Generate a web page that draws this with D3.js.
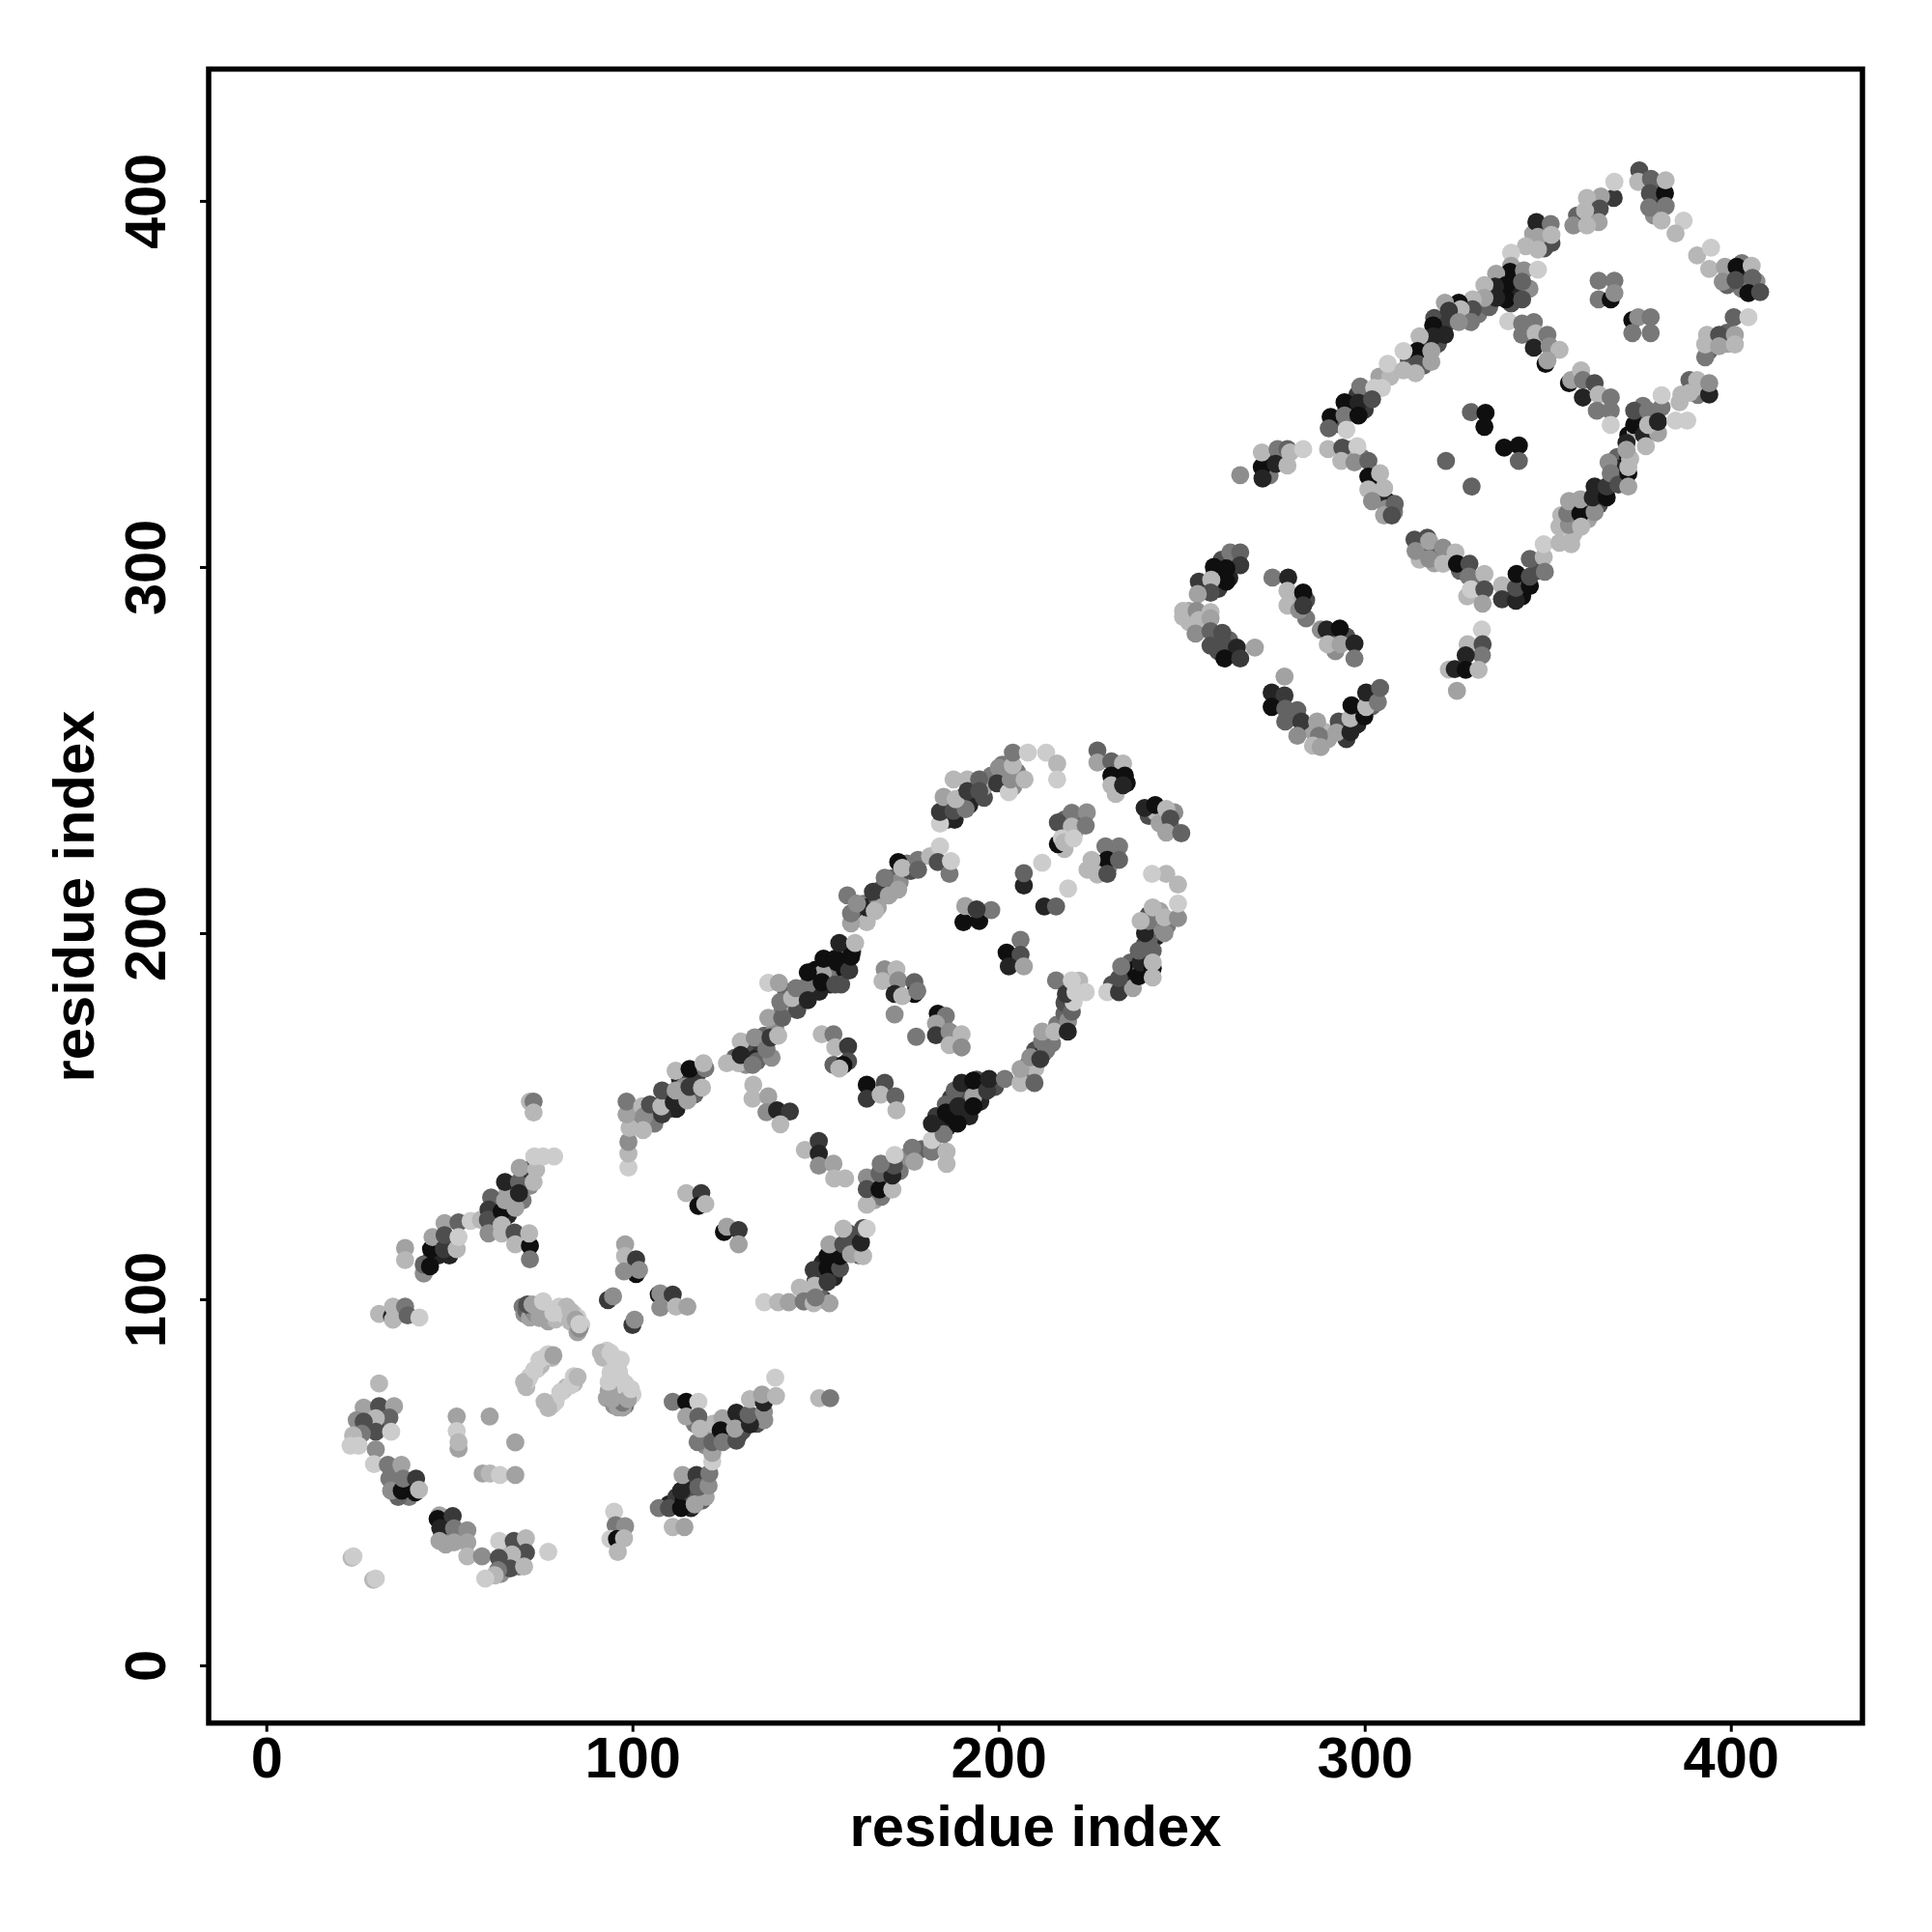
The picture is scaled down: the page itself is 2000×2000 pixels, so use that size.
<!DOCTYPE html>
<html><head><meta charset="utf-8"><script src="https://cdnjs.cloudflare.com/ajax/libs/d3/7.8.5/d3.min.js"></script>
<style>html,body{margin:0;padding:0;background:#fff}svg{display:block}</style></head><body><div id="c"></div>
<script>
// each contact: [residue i, residue j, shade 0 (dark) .. 9 (light)]
const tickValues=[0,100,200,300,400];
const axisTitle="residue index";
// contacts mostly hidden under others: drawn first
const underCross=[[70,98,5],[70.5,96,6],[71,97,4],[72,95,7],[73,97,3],[73.5,96,6],[74,98,8],[75,96.5,7],[76,95,8],[77,97,9],[77,94,7],[79,94.5,8],[80,98,9],[81,96,9],[82,98,8],[83,94,8],[84,96,9],[85,95,9],[86,93,9],[85,91,7],[72,79,9],[71,76,8],[71.5,78,9],[74,81,9],[75,82,8],[77,85,9],[78,84,8],[79,72,9],[78,71,9],[81,75,9],[82,76,8],[84,77,8],[84,79,9],[76,72,8],[92,84,8],[93,86,9],[95,84,9],[96,82,9],[94,80,9],[95,79,9],[97,78,9],[95,75,8],[93,73,7],[95,71,6],[96,73,6],[98,74,7],[99,73,5],[97,72,4],[98,71,5],[100,74,9],[96,76,9],[98,77,9],[94,77,9],[96,70.5,7]];
const underLowerStrand=[[110,44,1],[112,46,2],[114,45,0],[115,47,3],[116,50,1],[119,45,4],[116,43,1],[118,51,5],[120,46,7],[122,61,2],[123,62,1],[125,63,0],[126,65,3],[127,62,2],[129,63,1],[130,67,0],[130,64,3],[133,68,1],[134,66,3],[136,67,6],[117,66,5],[120,63,6],[122,66,8],[120,60,6]];
const underMidLower=[[152,100,2],[151,102,4],[148,101,6],[150,105,3],[152,110,1],[155,106,1],[155,110,0],[158,113,1],[160,116,4],[161,114,5],[162,112,3],[159,118,3],[165,128,6],[166,131,1],[166,127,7],[168,128,5],[169,131,1],[169,134,3],[170,132,2],[173,135,5],[175,139,6],[179,141,4],[182,142,7],[184,146,3],[183,150,2],[186,147,1],[187,150,0],[187,155,2],[190,150,2],[190,154,0],[191,157,3],[192,150,1],[195,154,1],[195,158,2],[194,160,3],[188,157,4],[199,158,3]];
const underMidUpper=[[207,160,5],[208,164,4],[210,168,3],[212,167,1],[213,168,5],[210,163,8],[213,172,3],[216,175,5],[218,178,4],[219,176,6],[218,181,3],[219,186,3],[222,187,8],[231,186,3],[234,186,2],[235,189,1],[236,192,4],[237,190,0],[240,192,1],[239,190,5],[240,197,3],[243,199,1],[241,198,4],[243,202,6],[241,205,3],[246,202,5],[244,206,7]];
const underUpperA=[[100,148,4],[101,150,6],[104,149,7],[106,152,3],[106,148,5],[109,155,1],[110,152,3],[112,152,1],[113,156,2],[113,160,1],[116,160,3],[117,156,4],[118,162,2],[114,158,6],[128,166,4],[131,168,3],[131,164,6],[134,166,1],[135,170,2],[134,165,4],[136,172,4],[138,166,6],[139,174,6],[141,179,5],[142,184,4],[143,180,7],[145,179,3],[146,184,3],[149,184,2],[149,187,8],[150,190,0],[151,184,1],[153,188,0],[154,186,1],[154,190,2],[156,188,5],[157,194,2],[158,190,0],[158,196,4],[160,195,1],[148,186,5],[152,189,7],[156,192,0],[157,186,3]];
const underUpperB=[[161,204,3],[162,206,2],[163,208,5],[164,203,8],[164,207,1],[167,209,3],[168,212,4],[167,207,7],[170,213,2],[171,215,4],[173,214,6],[175,219,5],[176,217,3],[186,231,2],[186,235,5],[188,231,1],[189,235,2],[190,237,3],[192,235,1],[193,240,2],[196,237,3],[197,241,3],[198,243,5],[201,242,2],[201,246,5],[204,240,6],[205,244,5],[196,240,7],[232,243,1],[233,245,5],[235,241,0],[232,238,8],[241,232,3],[243,233,8],[244,230,7],[247,229,5],[248,233,6],[218,231,4],[222,231,4],[221,228,7],[230,218,6],[227,219,5],[227,216,8],[231,222,4],[218,223,8]];
const underRing=[[261,302,3],[264,302,1],[263,297,1],[260,294,2],[256,294,4],[259,298,0],[252,288,7],[252,285,8],[256,284,7],[255,283,6],[259,280,5],[260,277,3],[263,276,1],[264,276,4],[263,280,4],[276,263,1],[280,259,3],[284,256,5],[286,255,7],[289,255,8],[290,253,7],[294,256,4],[295,253,2],[298,257,1],[298,260,2],[301,264,2],[302,262,4],[284,291,3],[282,292,1],[280,291,7],[284,286,5],[291,281,4],[295,281,3],[292,277,6],[275,330,2],[273,328,0],[274,325,5],[277,330,8]];
const underThirdLeft=[[298,347,2],[295,343,1],[293,339,3],[300,348,3],[300,343,2],[304,352,7],[307,352,8],[312,357,3],[313,354,5],[315,358,1],[316,361,2],[316,355,4],[320,364,1],[320,361,3],[319,368,3],[323,367,2],[327,369,1],[331,372,3],[331,369,5],[333,374,1],[334,371,4],[337,375,0],[337,379,2],[341,376,1],[340,372,3],[341,381,0],[342,379,5],[345,376,6],[349,392,4],[346,391,7],[349,387,3],[358,396,4],[362,399,5],[380,400,2],[380,404,4],[379,396,6]];
const underThirdRight=[[372,336,0],[375,340,1],[378,341,3],[374,337,8],[376,344,5],[369,330,4],[370,327,1],[368,324,4],[364,320,1],[364,317,3],[360,318,2],[361,313,7],[356,313,3],[357,309,8],[392,348,3],[391,347,5],[390,349,8],[395,362,5],[394,359,4],[399,361,7],[399,364,4],[399,380,6],[403,380,1],[403,376,5],[403,383,5],[407,378,6],[399,377,4],[339,293,1],[343,292,0],[343,296,2],[347,299,3],[326,299,4],[330,296,5],[328,292,8],[316,305,5],[315,302,8],[319,304,4],[319,301,7],[304,319,4],[306,318,1],[306,316,6],[308,315,5],[303,323,0],[299,330,5],[296,332,2],[295,330,7],[316,306,4]];
const underFirstDomain=[[45,111,3],[47,112,1],[47,115,6],[49,115,2],[50,112,1],[62,123,3],[62,126,2],[63,120,7],[66,123,1],[66,129,3],[67,127,4],[70,127,5],[66,130,7],[70,134,8],[72,131,6],[28,66,4],[31,66,5],[28,68,7],[32,65,3],[35,52,7],[36,50,3],[39,49,0],[39,46,5],[36,46,4],[48,36,5],[49,38,2],[50,35,6],[49,33,7],[53,35,5],[65,31,2],[66,28,4],[68,29,1],[65,33,8],[69,27,5],[68,32,3],[64,25,6]];
// contacts seen on top
const lowerLeftArc=[[72,154,8],[73,154,5],[73,151,8],[37.9,114,7],[37.9,110.7,8],[43,107,6],[43,109.5,4],[44.7,109,0],[45,113.7,0],[45.4,117,7],[48.7,120.8,7],[52.5,121,4],[48.5,113.7,2],[52,113.7,8],[48.7,117.5,3],[52.5,117,9],[55.8,121.4,9],[58.6,121.7,8],[61.4,127.8,4],[60.7,124.5,2],[60.5,121.7,3],[60.7,118,6],[64.3,124,0],[65.2,127,7],[68,125,7],[64.3,120.3,8],[64.3,118,8],[67.8,118.2,3],[68,115,8],[72,114.6,0],[71.8,118,8],[72,110.9,5],[65.2,132,1],[69,132,4],[69,129,1],[71.8,135.4,2],[69.2,135.9,7],[73.7,135.4,8],[73,132,8],[73.2,139,9],[75.6,139,9],[78.6,139,9]];
const crossArms=[[30.8,96,8],[34.3,95.3,1],[34.6,94.4,8],[34.6,98,8],[37.9,98,5],[38.6,95.6,4],[41.8,95,9],[71.3,98.6,3],[72.7,98.6,7],[74.6,94.9,7],[75.6,99.4,9],[78.4,96.3,9],[83.1,96.7,8],[84.5,94.4,7],[85.5,92,6],[85.5,93.2,9],[70.4,77.4,8],[73.2,80.7,9],[74.6,83.5,9],[76.5,84.5,9],[78.4,84.7,7],[77,70.3,8],[80.3,74.6,9],[83.1,76.5,9],[85,78.8,8],[91.4,85.4,8],[94,85.4,9],[96.8,83.5,9],[96.3,80.2,9],[93.5,75,7],[93.5,77.4,9],[97.3,70.4,7],[97.3,71.8,5],[98.7,72.7,7],[94.4,72.7,7],[99.6,75.5,9],[93.3,99.8,2],[94.7,100.8,6],[100,93,2],[100.6,94.4,6],[98,115,7],[98,111.8,8],[101,110.9,2],[101,106.9,0],[97.7,107.6,6],[101.8,108,6],[107.2,101.3,0],[107.6,101.6,6],[111,101.3,2],[107.6,97.7,6],[111.9,98,8],[115,98,7],[114.7,129,8],[118.8,129,2],[118,125.5,0],[119.9,126,8],[125,118.4,0],[125.8,119.8,7],[129,118.9,2],[129,115,7]];
const firstHelixEnd=[[30.8,77,8],[26.6,70.4,7],[30.8,70.8,3],[34.9,70.8,7],[33.6,67.7,4],[29.9,67.5,8],[24.7,67,6],[26.6,66.6,3],[29.9,63.8,3],[26.1,63.3,5],[34.1,63.8,9],[23.7,62.8,8],[23,60,9],[25.2,60,9],[29.9,59,6],[29.4,55,9],[33.2,54.8,5],[36.9,54.8,7],[33.6,51,5],[34.1,47.7,6],[37,47.7,0],[37.4,51,5],[40.9,51,2],[40.7,47.3,0],[41.7,48,8],[47.3,41,7],[46.8,40,0],[50.9,40.8,2],[47.5,37.5,1],[47.3,34,7],[51.3,37.4,5],[54.9,36.9,6],[51.3,33.6,7],[54.9,33.6,7],[54.9,29.8,8],[58.9,29.8,6],[63.6,34,9],[67.6,34,3],[70.9,34.7,8],[70.9,30.8,3],[67.1,30.3,8],[63.5,29.4,3],[66.6,26.5,3],[63.3,26,5],[70.4,27,8],[62.4,24.6,8],[59.8,23.7,9],[77,31,9],[23.3,29.4,8],[23.8,29.8,9],[29.2,23.4,8],[29.9,23.7,9]];
const lowerInner=[[52,68,7],[61,68,7],[52,64,9],[52.5,59.2,7],[52.5,61,8],[68,60.9,7],[59.1,52.4,7],[61,52.4,8],[63.8,52,9],[68,52,7],[95,42,9],[95.4,38.3,5],[98,38,6],[94,34.5,9],[95.8,34.5,0],[97.7,34.7,8],[96,31,8]];
const lowerStrand=[[107.2,43,5],[110,43,3],[111,37.8,8],[114.2,37.8,7],[113.3,43,0],[117,44,7],[113.3,47.7,1],[113.7,52,7],[117.5,52,2],[118,48.7,4],[120.8,49.1,6],[121,52.4,5],[121.8,55.7,9],[121.8,58,7],[111,72,5],[114.7,72,0],[118,72,9],[114.7,68,7],[118,68,4],[117.8,61,5],[118.5,64.7,8],[121.8,61,4],[124.6,67.5,7],[124.1,64.2,0],[124.6,61,5],[128.4,61.4,3],[128.4,69,1],[128,64.7,7],[132.1,65.8,1],[131.7,68.5,4],[132.1,72.7,8],[135.9,69.2,6],[135.9,71.8,1],[135.4,74,7],[139.2,73.6,8],[139,78.6,9],[151,73,8],[154,73,5]];
const midStrandLower=[[136,99.2,9],[139.8,99.2,8],[142.7,99.2,7],[145.7,103.2,8],[146.8,99.4,5],[149.5,108,2],[149.8,103.7,8],[149.5,98.9,8],[153.8,98.9,7],[150,100.5,5],[153.3,108.5,0],[153.3,104.8,2],[156.7,108.5,3],[153.3,111.8,0],[156.7,111.8,0],[153.8,115,7],[157.6,115,3],[157.6,119.3,8],[159.7,112.3,7],[163,111.8,8],[162.4,115.5,1],[163,119.4,3],[164,119.3,9],[164,125.8,8],[164,133.3,6],[164,130.1,3],[167.5,130,0],[167.5,134.4,4],[171,130,8],[171,133.8,1],[171.4,136.5,3],[167.8,137,5],[171.6,139.4,9],[176.4,141.4,5],[177,137.6,7],[181.8,140.3,5],[181.8,143.5,9],[185.8,137,8],[185.8,140.3,8],[185,145.1,5],[181.8,148,1],[185.6,153.2,4],[185.6,151,0],[188.8,148,0],[189,152.7,1],[189.9,159.1,1],[193.1,155.4,7],[193.1,152.7,0],[193.1,159.7,0],[196.9,157,2],[197.4,160.2,1]];
const midStrandUpper=[[201.7,160.2,5],[206,159.1,8],[209.8,159.1,4],[206,162.9,7],[208.7,166.1,6],[211.4,165.6,2],[211.9,170.4,5],[214.6,169.9,5],[211.9,173.1,7],[215.2,173.1,8],[218.9,173.1,1],[220,178.5,4],[220.5,181.2,9],[215.7,187.1,5],[218.4,183.4,2],[220,187.1,9],[221,183.9,9],[223.8,183.9,9],[229.7,183.9,9],[232.9,183.9,2],[236.7,185,7],[232.9,187.7,3],[233.5,190.9,5],[238.3,188.2,0],[238.8,192,1],[242.1,190.4,0],[242.1,187.9,8],[242.1,195.2,4],[238.3,195.2,4],[242.1,192,8],[240,200,1],[241,203.3,5],[238.8,203.3,8],[245.3,200,6],[245.3,204.3,8],[249,204.1,6],[242.1,207,8],[249,208.1,9],[249,213.3,8],[245.8,216.2,8],[241.9,216.2,9]];
const topRightCorner=[[227,249.9,4],[227,246.6,7],[230.8,246.9,4],[234,246.3,8],[230.8,243,0],[230.8,240.4,8],[234.5,243,0],[234,240.4,1],[239.9,234.2,1],[242.8,235,0],[245.8,233.9,8],[246.9,231.3,3],[245.8,227.5,7],[249.9,227.3,4],[220,232.9,5],[224.1,233,6],[216.2,230.2,3],[220,229.1,8],[223.8,229.4,5],[216.2,224.3,0],[217.3,225.9,9],[217.9,224.8,8],[220.5,225.9,9],[229.2,223.7,5],[232.9,223.7,5],[229.7,220,0],[232.9,220,4],[225.4,220,8],[224.3,217.3,8],[229.7,216.2,3],[211.9,219.2,9],[206.9,213,1],[206.9,216.4,4],[219,212.2,9],[212.5,207.3,1],[215.7,207.3,4]];
const innerContacts=[[190.4,203,0],[194.7,203.3,0],[190.9,207.4,7],[198,206.3,5],[194,206.5,2],[202.2,194.7,0],[206,198.2,5],[206,194.1,3],[202.8,190.9,1],[206.9,190.9,7],[168.9,190.1,6],[172.1,190.1,8],[168.3,186.9,8],[172.6,187.1,6],[171.6,183.4,1],[177,186.6,4],[177,183.4,0],[173.7,182.8,8],[177.8,184.2,5],[171.6,177.8,6],[177.5,171.7,5],[183.4,178,0],[185.6,177.4,5],[182.9,175.3,7],[182.9,172.1,2],[186.6,173.1,6],[189.9,172.4,8],[186.6,169.4,8],[189.9,168.8,6],[151.7,172.4,8],[154.9,172.4,5],[155.4,168.8,8],[158.9,169.1,2],[158.9,165,3],[154.9,164,4],[157.6,164,0],[156.5,163,8],[164,158.6,0],[168.9,159.1,3],[164,154.8,2],[167.8,155.9,8],[171.8,155.4,4],[172.1,151.6,8],[133,158.6,8],[132.8,154.8,8],[137.1,155.4,7],[136.6,151.1,6],[139.5,151.6,1],[143,151.3,2],[140.4,147.8,8],[147.1,140.8,8],[150.9,143.2,2],[150.9,139.8,1],[150.9,136.5,6],[154.9,137,7],[155.1,133,8],[158.1,133,8]];
const upperStrandA=[[98.9,136,9],[98.9,139.8,8],[98.9,143,6],[99.2,146.8,8],[98.4,150.5,7],[98.4,154,5],[102.7,152.7,8],[103.2,150,6],[102.9,146.2,8],[104.8,153.2,3],[108.1,150.5,2],[107.9,152.7,8],[108.1,157,3],[111.3,153.8,1],[115,154.3,7],[111.8,157,7],[111.8,162.4,8],[115.6,162.9,0],[119.9,163.1,5],[115.6,158,2],[119,157.8,8],[119.4,164.5,8],[125.8,164.5,8],[129,164.5,8],[129.6,170.4,8],[129.6,166.7,1],[132.8,164,5],[133.4,171.5,6],[136.6,168.3,5],[137.7,171.5,2],[139.8,172,8],[137.1,176.9,7],[140.9,176.9,4],[140.4,181.2,5],[137.1,186.4,9],[140,186.4,7],[143.6,182.3,8],[144.7,185,5],[147.9,181.7,1],[147.9,189.3,0],[151.7,186.6,0],[155.4,186,3],[152.2,193,0],[155.4,193,0],[156.5,197.3,1],[159.2,189.8,2],[159.7,193.6,0],[160.8,197.3,8]];
const upperStrandB=[[159.7,202.7,7],[159.7,205.4,5],[158.7,210.3,5],[161.3,208.1,6],[166.2,206,8],[165.7,211.3,2],[170,210.3,7],[172.6,211.9,7],[168.9,215.1,5],[172.6,219.4,0],[173.7,217.8,8],[178,220,5],[178,217.3,4],[181.3,221,8],[184,223.7,9],[183.4,219.4,3],[186.6,216.2,5],[187,219.7,9],[184,229.9,9],[184,233.1,2],[185,237.2,7],[187.7,233.4,3],[191,233.9,5],[187.7,242,8],[188.3,236.6,8],[191.5,242,8],[191.5,238.8,2],[194.7,242,4],[194.7,238.8,3],[200.1,245.2,6],[199.6,240.9,2],[202.8,238.5,9],[203.3,242,6],[207.1,242,8],[203.9,245.8,8],[203.9,249.3,5],[208,249.3,9],[213,249.3,9],[216,246.3,8],[216,242,9]];
const secondDomainRing=[[263.3,304,5],[266,304,4],[266,300.5,2],[262.2,299.6,0],[258.8,300,0],[262.2,296,0],[254.7,296,2],[258.1,296.5,8],[257.9,293,3],[254.4,292.6,7],[250.4,288,8],[250.4,286.4,8],[254.1,288,6],[257.9,287.7,8],[254.7,285.5,8],[257.9,286,7],[253.8,281.8,6],[257.9,282.5,4],[261.1,282,3],[257.9,278.5,3],[261.7,278.5,3],[265.1,278,1],[270,278,7],[261.7,275,0],[266,275,2],[274.8,297.1,5],[279.1,297.1,1],[278.9,293.5,8],[283.2,293,0],[278.9,289.5,8],[282.1,288.2,6],[283.2,289.5,2],[288,282.9,6],[289.6,282.9,1],[293.2,283.2,0],[289.9,278.9,8],[293.4,278.9,7],[297.2,279.1,1],[297.2,275,5],[278.1,270.1,7],[274.6,265.7,1],[278.1,264.9,2],[274.6,261.8,0],[278.3,261.3,4],[281.6,260.9,4],[278.3,257.8,4],[282.7,257.8,2],[281.6,253.9,6],[287,257.8,7],[287.5,253.9,5],[285.9,251.2,8],[288,250.8,7],[292.9,257.8,3],[292.3,254.8,7],[296.1,254.9,1],[296.1,258.7,8],[296.4,262.2,0],[299.9,259.2,0],[300.4,261.8,8],[300.4,265.7,1],[303.6,263.1,5],[304.2,267,4]];
const upperLeftTail=[[266,325.1,6],[271.9,327.3,0],[272.1,324.2,1],[271.9,331.3,8],[276.2,332.2,5],[278.9,332.2,4],[275.7,328.2,1],[278.9,327.7,8],[279.6,331.3,8],[283.2,332.2,9]];
const thirdLowerEdge=[[290,332.2,8],[293.9,332.6,3],[293.6,329,8],[298,333,9],[297.2,328.6,6],[301,329,4],[301,324.7,0],[304.2,325.6,8],[301,321.2,8],[305.3,321.6,8],[302,318,6],[308.2,317.2,4],[305.3,314.1,7],[307.4,314.1,3],[313.6,307.5,3],[317.1,308,3],[313.9,304.4,6],[317.6,307.1,7],[317.6,302.2,6],[321.4,305.3,6],[321.4,300.9,8],[324.8,304,8],[325.2,300.9,0],[328.6,300.9,3],[328.4,297.4,5],[332.7,298.1,8],[329,293.9,9],[332.7,293.9,3],[332.2,290,7],[337.5,295,8],[337.5,291.2,2],[341.3,290.8,1],[341.3,294.3,3],[341.5,298.1,0],[345.1,294.8,0],[345.1,297.4,3],[345.1,302.2,4],[348.9,302.7,8],[349.2,298.7,5],[348.9,306.2,9],[353.2,306.6,8],[356.4,306.2,8]];
const thirdRightEdge=[[353.2,311,8],[353.7,314.1,8],[355.8,311.5,6],[355.3,314.6,5],[355.8,318,7],[358.9,314.6,0],[359.1,311,8],[362.8,315,6],[358.9,318.5,7],[362.3,319,1],[362.8,322,1],[366.1,319,0],[366.1,322,2],[366.6,328.6,6],[367.2,325.6,5],[369.3,322.5,3],[372,325.6,0],[372,322,7],[372,330,0],[372,327.3,8],[372.5,329.5,8],[371.5,333.9,1],[371.5,332,7],[373.6,338.8,0],[376.3,336.1,1],[376.8,333,8],[380.1,336.6,7],[373.6,342.7,3],[377.4,342.7,5],[381.1,343.6,5],[377.4,338.8,8],[380.1,339.7,1],[381.1,346.9,9],[386,345,8],[384.9,340,9],[388.1,340,9],[388.7,351.1,4],[390.8,351.1,8],[394.1,347.1,1],[394.1,350.2,6],[388.7,347.6,8],[386.5,347.1,8],[393,357.3,5],[393,360.8,8],[393.5,363.4,8],[396.8,363.4,3],[396.8,360.3,7],[401.1,363.4,7],[401.1,360.8,8],[400.8,368.2,4],[404.8,368.2,9]];
const thirdTopEdge=[[390.8,385.1,8],[394.6,387.2,9],[394.1,381.4,8],[398.4,382,7],[397.8,377.9,6],[401.6,382,0],[401.3,378.4,3],[405.7,382.3,8],[405.9,379,4],[404.8,374.8,0],[408,375.1,3],[375,408.3,3],[374.7,405.2,8],[378.2,406,4],[377.9,402.1,3],[382,402.1,0],[382.2,405.6,8],[377.7,398.2,5],[382.2,398.6,5],[381.1,394.6,8],[387.1,394.6,9],[384.9,391.1,8],[368,400.8,2],[368.2,405.2,9],[364.5,401.2,7],[360.7,400.8,8],[360.7,396,2],[364.2,397.9,3],[360.2,397.3,8],[363.9,394.2,7],[357,393.3,6],[360.7,393.3,8]];
const thirdLeftEdge=[[346.9,394.2,1],[350.8,393.7,5],[351,388.5,3],[347.3,390.2,7],[351,390.7,8],[344,387.6,8],[347.3,386.7,8],[340,385.8,9],[340,382.3,7],[339.7,380.6,0],[335.9,380.1,7],[343.5,381,6],[347.3,381.2,9],[338.6,377,0],[335.6,376.6,1],[343,377.9,4],[338.6,373.1,0],[343,373.1,3],[332.7,377,8],[335.9,373.5,1],[332.7,373.5,7],[329.5,373.1,8],[329.5,370.4,3],[325.7,372.2,0],[321.9,372.2,7],[326.2,370.4,8],[323,370,2],[329,366.9,5],[325.7,366.9,6],[318.7,366,0],[321.9,363.4,1],[318.7,363,1],[315,363,8],[314.4,359,0],[318.2,359,7],[310.6,359,9],[314.4,355.5,3],[318.2,356,7],[306.3,355.5,9],[310.6,353.7,8],[313.9,352.9,8],[304.7,348.9,9],[298.8,349.3,5],[302.6,348.9,9],[294.5,345,0],[298.3,344.9,1],[302,345.8,3],[290.7,341,0],[294.5,341.4,5],[298.3,341.4,0],[295,337.5,9],[290.2,337.9,4]];
const thirdInner=[[363.9,378.2,5],[368.2,378.2,5],[363.9,373.1,5],[367.2,373.1,0],[368.2,374.8,6],[373.1,367.4,0],[374.7,368.2,6],[378.1,368.2,5],[373.1,363.9,5],[378.1,363.9,5],[339.2,367.1,9],[343,366.5,5],[346.2,366.9,5],[343,363.4,5],[346.7,363.8,8],[349.9,363.4,5],[346.2,359.9,1],[350.5,360.3,6],[353.2,359.3,8],[349.4,355.5,0],[349.9,356.4,7],[355.8,350.2,0],[356.4,351.1,7],[359.1,353.7,8],[359.6,351.1,5],[362.8,350.2,3],[359.6,346.3,1],[363.9,347.1,8],[367.2,346.3,5],[363.4,342.7,5],[367.2,342.7,5],[367.2,338.8,9],[329,342.3,4],[333,342.1,0],[332.7,338.3,0],[322.2,329,4],[329.2,322,4],[338.1,332.6,0],[342.1,333.2,0],[342.1,329,4],[325.2,266.2,7],[332,282.9,9],[328.1,278.9,8],[332.2,278.9,3],[332,275.9,5],[327.6,275.9,1],[323,272,8],[324.6,272.1,1],[327.6,271.9,0],[331.1,271.9,8]];

const contacts=[underCross,underLowerStrand,underMidLower,underMidUpper,underUpperA,underUpperB,underRing,underThirdLeft,underThirdRight,underFirstDomain,lowerLeftArc,crossArms,firstHelixEnd,lowerInner,lowerStrand,midStrandLower,midStrandUpper,topRightCorner,innerContacts,upperStrandA,upperStrandB,secondDomainRing,upperLeftTail,thirdLowerEdge,thirdRightEdge,thirdTopEdge,thirdLeftEdge,thirdInner].flat();

const W=2000,H=2000,L=216,R=1928,T=71.5,B=1783.7;
const x=d3.scaleLinear().domain([-15.75,435.95]).range([L,R]);
const y=d3.scaleLinear().domain([-15.75,436]).range([B,T]);
const shade=d3.scaleLinear().domain([0,9]).range([15,204]);
const svg=d3.select("#c").append("svg").attr("width",W).attr("height",H).style("font-family","'Liberation Sans',Arial,sans-serif");
svg.append("rect").attr("width",W).attr("height",H).attr("fill","#fff");
svg.append("g").selectAll("circle").data(contacts).join("circle")
 .attr("cx",d=>x(d[0])).attr("cy",d=>y(d[1])).attr("r",9.4)
 .attr("fill",d=>{const g=Math.round(shade(d[2]));return d3.rgb(g,g,g).formatHex();});
svg.append("rect").attr("x",L).attr("y",T).attr("width",R-L).attr("height",B-T).attr("fill","none").attr("stroke","#000").attr("stroke-width",5.5);
const gx=svg.append("g").attr("transform",`translate(0,${B})`).call(d3.axisBottom(x).tickValues(tickValues).tickFormat(d3.format("d")).tickSize(9).tickSizeOuter(0));
const gy=svg.append("g").attr("transform",`translate(${L},0)`).call(d3.axisLeft(y).tickValues(tickValues).tickFormat(d3.format("d")).tickSize(9).tickSizeOuter(0));
[gx,gy].forEach(g=>{g.select(".domain").remove();g.selectAll("line").attr("stroke","#000").attr("stroke-width",3);});
gx.selectAll("text").attr("y",0).attr("dy",null).attr("transform",`translate(0,${1840-B})`).attr("text-anchor","middle").attr("font-size",59.5).attr("font-weight","bold").attr("font-family","'Liberation Sans',Arial,sans-serif").attr("fill","#000");
gy.selectAll("text").attr("x",0).attr("dy",null).attr("text-anchor","middle").attr("transform",`translate(${171-L},0) rotate(-90)`).attr("font-size",59.5).attr("font-weight","bold").attr("font-family","'Liberation Sans',Arial,sans-serif").attr("fill","#000");
svg.append("text").attr("x",(L+R)/2).attr("y",1911).attr("text-anchor","middle").attr("font-size",59.7).attr("font-weight","bold").text(axisTitle);
svg.append("text").attr("transform",`translate(97,928) rotate(-90)`).attr("text-anchor","middle").attr("font-size",59.7).attr("font-weight","bold").text(axisTitle);
</script></body></html>
